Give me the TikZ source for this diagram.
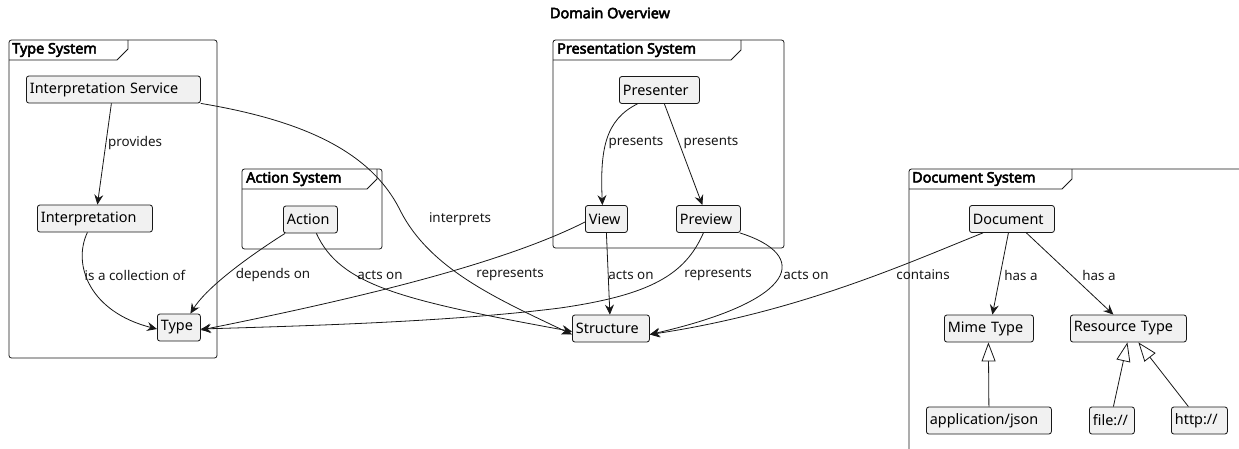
\documentclass[tikz,border=0pt]{standalone}
\usepackage{fontspec}
\setmainfont{Noto Sans}[BoldFont={Noto Sans}, BoldFeatures={FakeBold=3.4}]
\usetikzlibrary{arrows.meta}
\definecolor{boxfill}{HTML}{F1F1F1}
\definecolor{ink}{HTML}{181818}

\begin{document}
\begin{tikzpicture}[x=1pt,y=-1pt,
  entity/.style={draw=ink, fill=boxfill, rounded corners=2.5pt, line width=0.8pt,
    minimum height=27pt, inner xsep=3.5pt, inner ysep=0pt, align=left, anchor=west,
    font=\fontsize{14.4}{16}\selectfont},
  rel/.style={draw=ink, line width=0.8pt, -{Stealth[length=10pt,width=9pt,inset=3.5pt]}},
  isa/.style={draw=ink, line width=0.8pt, -{Triangle[open,length=19pt,width=14pt,fill=white]}},
  lbl/.style={font=\fontsize{13.4}{15}\selectfont, inner sep=0pt, text=ink},
  frame/.style={draw=ink, fill=white, line width=0.8pt, rounded corners=2.5pt},
  tab/.style={draw=ink, line width=0.8pt},
  ftitle/.style={font=\bfseries\fontsize{14.4}{16}\selectfont, anchor=west, inner sep=0pt, text=black}
]
\useasboundingbox (0,0) rectangle (1239,448);
\clip (0,0) rectangle (1239,448);

% title
\node[font=\bfseries\fontsize{14.4}{16}\selectfont, inner sep=0pt] (title) at (610,13) {Domain Overview};

% package frames
\draw[frame] (9,40) rectangle (217,358);
\draw[tab] (9,60) -- (117,60) -- (128,49) -- (128,40);
\node[ftitle] (tstitle) at (12,50) {Type System};

\draw[frame] (242,169) rectangle (382,249);
\draw[tab] (242,189) -- (367,189) -- (377,179) -- (377,169);
\node[ftitle] (astitle) at (246,179) {Action System};

\draw[frame] (553,40) rectangle (784,248);
\draw[tab] (553,60) -- (731,60) -- (741,50) -- (741,40);
\node[ftitle] (pstitle) at (557,50) {Presentation System};

\draw[frame] (909,169) rectangle (1260,470);
\draw[tab] (909,189) -- (1062,189) -- (1072,179) -- (1072,169);
\node[ftitle] (dstitle) at (912,179) {Document System};

% entities (left edge, vertical centre; text width = box width - 7pt)
\node[entity, text width=167pt] (is) at (26,89.5) {Interpretation Service};
\node[entity, text width=108pt] (interp) at (37,218.5) {Interpretation};
\node[entity, text width=36pt] (type) at (157,327.5) {Type};
\node[entity, text width=47pt] (action) at (283,219.5) {Action};
\node[entity, text width=73pt] (presenter) at (619,90) {Presenter};
\node[entity, text width=35pt] (view) at (585,219) {View};
\node[entity, text width=57pt] (preview) at (676,219) {Preview};
\node[entity, text width=70pt] (structure) at (572,328.5) {Structure};
\node[entity, text width=78pt] (document) at (969,219) {Document};
\node[entity, text width=82pt] (mime) at (944,328.5) {Mime Type};
\node[entity, text width=109pt] (resource) at (1070,328.5) {Resource Type};
\node[entity, text width=118pt] (json) at (926,420.5) {application/json};
\node[entity, text width=38pt] (file) at (1089,420.5) {file://};
\node[entity, text width=49pt] (http) at (1171,420.5) {http://};

% relations
\draw[rel] ([xshift=-2pt]is.south) -- ([xshift=2.5pt]interp.north);
\draw[rel] ([xshift=-7.5pt]interp.south) .. controls (72,265) and (90,312) .. ([yshift=-1.5pt]type.west);
\draw[rel] (is.south east) .. controls (300,120) and (370,150) .. (400,210)
  .. controls (430,270) and (500,300) .. ([yshift=-6pt]structure.west);
\draw[rel] ([xshift=2pt]action.south west) .. controls (240,262) and (205,290) .. ([xshift=11.5pt]type.north);
\draw[rel] ([xshift=6pt]action.south) .. controls (340,285) and (400,300) .. ([yshift=-3pt]structure.west);
\draw[rel] ([yshift=-3pt]view.west) .. controls (500,265) and (350,300) .. ([yshift=-2.5pt]type.east);
\draw[rel] ([xshift=-22pt]presenter.south) .. controls (605,120) and (600,150) .. ([xshift=-4pt]view.north);
\draw[rel] ([xshift=5pt]presenter.south) -- ([xshift=-6pt]preview.north);
\draw[rel] (view.south) -- ([xshift=-1pt]structure.north);
\draw[rel] ([xshift=-5pt]preview.south) .. controls (685,275) and (650,295) .. (560,308)
  .. controls (450,322) and (300,326) .. ([yshift=-1.5pt]type.east);
\draw[rel] ([xshift=-1pt]preview.south east) .. controls (810,255) and (800,300) .. ([yshift=-6pt]structure.east);
\draw[rel] ([xshift=-29pt]document.south) .. controls (910,262) and (800,312) .. ([yshift=-6pt]structure.east);
\draw[rel] ([xshift=-3.5pt]document.south) -- ([xshift=3.5pt]mime.north);
\draw[rel] ([xshift=14.5pt]document.south) -- ([xshift=-15pt]resource.north);
\draw[isa] (json.north) -- ([xshift=-0.5pt]mime.south);
\draw[isa] ([xshift=1.5pt]file.north) -- ([xshift=-1pt]resource.south);
\draw[isa] ([xshift=-11pt]http.north) -- ([xshift=10pt]resource.south);

% relation labels
\node[lbl, anchor=west] (l1) at (108,143) {provides};
\node[lbl] (l2) at (135,275) {is a collection of};
\node[lbl] (l3) at (460,219) {interprets};
\node[lbl] (l4) at (273,275) {depends on};
\node[lbl] (l5) at (380,275) {acts on};
\node[lbl] (l6) at (510,275) {represents};
\node[lbl] (l7) at (636,143) {presents};
\node[lbl] (l8) at (711,143) {presents};
\node[lbl] (l9) at (631,275) {acts on};
\node[lbl] (l10) at (718,275) {represents};
\node[lbl] (l11) at (806,275) {acts on};
\node[lbl] (l12) at (923,275) {contains};
\node[lbl] (l13) at (1021,275) {has a};
\node[lbl] (l14) at (1099,275) {has a};
\end{tikzpicture}
\end{document}
